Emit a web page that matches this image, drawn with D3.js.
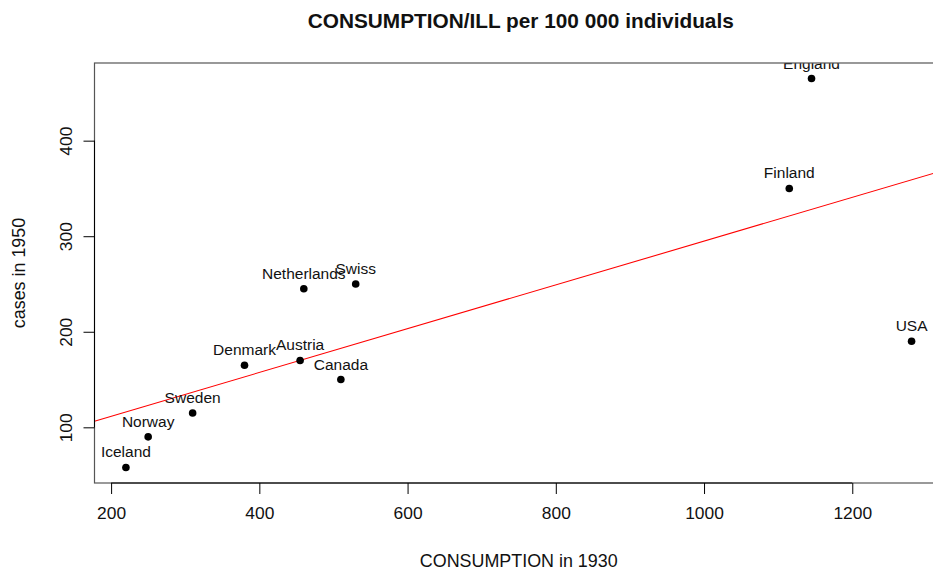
<!DOCTYPE html>
<html lang="en">
<head>
    <meta charset="UTF-8">
    <title>CONSUMPTION/ILL</title>
    <script src="https://d3js.org/d3.v7.min.js"></script>
    <style>
        body { margin: 0; background: white; }
        text { font-family: "Liberation Sans", Arial, sans-serif; fill: #111; }
    </style>
</head>
<body>
    <script>
        // data
        const countries = ["Iceland", "Norway", "Sweden", "Denmark", "Austria", "Netherlands",
                           "Canada", "Swiss", "Finland", "England", "USA"];
        const consumption = [220, 250, 310, 380, 455, 460, 510, 530, 1115, 1145, 1280];
        const cases = [58, 90, 115, 165, 170, 245, 150, 250, 350, 465, 190];
        const xTicks = [200, 400, 600, 800, 1000, 1200];
        const yTicks = [100, 200, 300, 400];

        const svgWidth = 933, svgHeight = 570;
        const plot = { left: 94.5, right: 943, top: 63, bottom: 483 };

        const svg = d3.select("body").append("svg")
            .attr("width", svgWidth)
            .attr("height", svgHeight);

        // R style 4% padding on the axis ranges
        function padded(v) {
            const [lo, hi] = d3.extent(v);
            const p = (hi - lo) * 0.04;
            return [lo - p, hi + p];
        }

        const x = d3.scaleLinear().domain(padded(consumption)).range([plot.left, plot.right]);
        const y = d3.scaleLinear().domain(padded(cases)).range([plot.bottom, plot.top]);

        const points = countries.map((c, i) => ({ name: c, x: consumption[i], y: cases[i] }));

        // least squares fit, like abline(lm(...))
        const mx = d3.mean(consumption), my = d3.mean(cases);
        const sxy = d3.sum(points, d => (d.x - mx) * (d.y - my));
        const sxx = d3.sum(points, d => (d.x - mx) * (d.x - mx));
        const slope = sxy / sxx;
        const intercept = my - slope * mx;

        svg.append("clipPath").attr("id", "clip")
            .append("rect")
            .attr("x", plot.left).attr("y", plot.top)
            .attr("width", plot.right - plot.left)
            .attr("height", plot.bottom - plot.top);

        const inner = svg.append("g").attr("clip-path", "url(#clip)");

        const xd = x.domain();
        inner.append("line")
            .attr("x1", x(xd[0])).attr("y1", y(intercept + slope * xd[0]))
            .attr("x2", x(xd[1])).attr("y2", y(intercept + slope * xd[1]))
            .attr("stroke", "red")
            .attr("stroke-width", 1.1);

        inner.selectAll(".pt")
            .data(points)
            .enter().append("circle")
            .attr("class", "pt")
            .attr("cx", d => x(d.x))
            .attr("cy", d => y(d.y))
            .attr("r", 3.8)
            .attr("fill", "black");

        inner.selectAll(".lbl")
            .data(points)
            .enter().append("text")
            .attr("class", "lbl")
            .attr("x", d => x(d.x))
            .attr("y", d => y(d.y) - 10)
            .attr("text-anchor", "middle")
            .style("font-size", "15.5px")
            .text(d => d.name);

        // box
        svg.append("rect")
            .attr("x", plot.left).attr("y", plot.top)
            .attr("width", plot.right - plot.left)
            .attr("height", plot.bottom - plot.top)
            .attr("fill", "none")
            .attr("stroke", "#555")
            .attr("stroke-width", 1.2);

        // x axis
        const xAxis = d3.axisBottom(x).tickValues(xTicks).tickFormat(d3.format("d"))
            .tickSizeOuter(0).tickSize(11).tickPadding(13);
        const gx = svg.append("g")
            .attr("transform", `translate(0,${plot.bottom})`)
            .call(xAxis);
        gx.select(".domain")
            .attr("d", `M${x(xTicks[0])},0H${x(xTicks[xTicks.length - 1])}`)
            .attr("stroke", "black");
        gx.selectAll("text").style("font-size", "17.4px").attr("font-family", null);
        gx.selectAll("line").attr("stroke", "black");

        // y axis, labels parallel to the axis
        const yAxis = d3.axisLeft(y).tickValues(yTicks).tickFormat(d3.format("d"))
            .tickSizeOuter(0).tickSize(11);
        const gy = svg.append("g")
            .attr("transform", `translate(${plot.left},0)`)
            .call(yAxis);
        gy.select(".domain")
            .attr("d", `M0,${y(yTicks[0])}V${y(yTicks[yTicks.length - 1])}`)
            .attr("stroke", "black");
        gy.selectAll("line").attr("stroke", "black");
        gy.selectAll("text")
            .attr("x", null).attr("dy", null)
            .attr("text-anchor", "middle")
            .attr("transform", d => `translate(${72 - plot.left},0) rotate(-90)`)
            .style("font-size", "17.4px")
            .attr("font-family", null);

        svg.selectAll(".tick text").style("fill", "#111");

        // titles
        const cx = (plot.left + plot.right) / 2;
        const cy = (plot.top + plot.bottom) / 2;

        svg.append("text")
            .attr("x", cx + 2).attr("y", 27.5)
            .attr("text-anchor", "middle")
            .style("font-size", "20.8px")
            .style("font-weight", "bold")
            .text("CONSUMPTION/ILL per 100 000 individuals");

        svg.append("text")
            .attr("x", cx).attr("y", 567)
            .attr("text-anchor", "middle")
            .style("font-size", "17.9px")
            .text("CONSUMPTION in 1930");

        svg.append("text")
            .attr("transform", `translate(25,${cy}) rotate(-90)`)
            .attr("text-anchor", "middle")
            .style("font-size", "17.9px")
            .text("cases in 1950");
    </script>
</body>
</html>
